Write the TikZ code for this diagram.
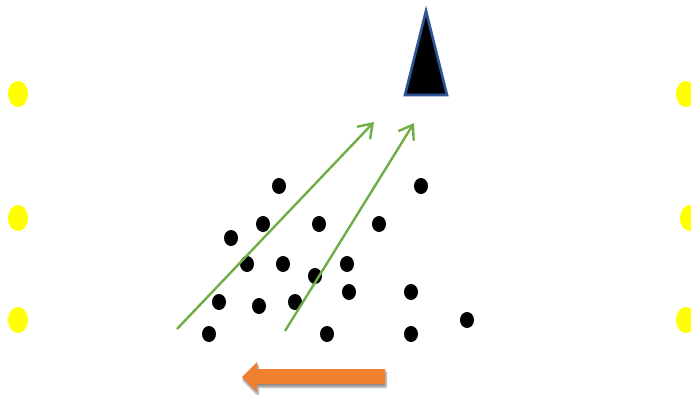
\documentclass[tikz,border=0pt]{standalone}
\usetikzlibrary{arrows.meta,shadows.blur}
\definecolor{fgreen}{HTML}{70AD47}
\definecolor{forange}{HTML}{F07F2F}
\definecolor{fblue}{HTML}{2F5597}
\definecolor{fyellow}{HTML}{FFFF00}
\begin{document}
\begin{tikzpicture}[x=1pt, y=-1pt]
\useasboundingbox (0,0) rectangle (691,394);
\clip (0,0) rectangle (691,394);
% ---------------- lamps on both sides ----------------
\foreach \x/\y in {18/94, 18/218, 18/320, 686/94, 690/218, 686/320}{\fill[fyellow] (\x,\y) ellipse (10pt and 13pt);}
% ---------------- observer (triangle) ----------------
\filldraw[fill=black, draw=fblue, line width=2.6pt] (426,11) -- (447,95) -- (405,95) -- cycle;
% ---------------- scattered points ----------------
\foreach \x/\y in {279/186, 421/186, 263/224, 319/224, 379/224, 231/238,
  247/264, 283/264, 347/264, 315/276, 219/302, 259/306, 295/302,
  349/292, 411/292, 467/320, 209/334, 327/334, 411/334}{\fill (\x,\y) ellipse (7pt and 8pt);}
% ---------------- rays towards the observer ----------------
\coordinate (r1a) at (177,329);
\coordinate (r1b) at (374,122);
\coordinate (r2a) at (285,331);
\coordinate (r2b) at (414,123);
\draw[fgreen, line width=2.4pt, -{Straight Barb[length=13pt, width=18pt]}] (r1a) -- (r1b);
\draw[fgreen, line width=2.4pt, -{Straight Barb[length=13pt, width=18pt]}] (r2a) -- (r2b);
% ---------------- motion arrow ----------------
\fill[forange, blur shadow={shadow xshift=1pt, shadow yshift=-3pt, shadow blur steps=6, shadow opacity=45}]
  (385,369) -- (257,369) -- (257,362) -- (242,377) -- (257,392) -- (257,384) -- (385,384) -- cycle;
\end{tikzpicture}
\end{document}
